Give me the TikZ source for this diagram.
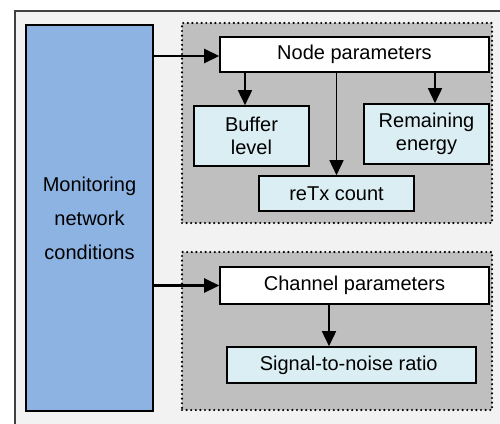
\documentclass[tikz,border=0pt]{standalone}
\usepackage{fontspec}
\setmainfont{Liberation Sans}
\usetikzlibrary{shapes, calc, arrows.meta, positioning}

\definecolor{monblue}{HTML}{8DB3E2}
\definecolor{grpgray}{HTML}{BFBFBF}
\definecolor{parblue}{HTML}{DBEEF4}
\definecolor{framegray}{HTML}{F2F2F2}

\begin{document}
\begin{tikzpicture}[x=1pt, y=-1pt, font=\fontsize{20}{23}\selectfont,
  >={Triangle[length=15pt, width=14pt]},
  box/.style={draw, line width=1.6pt, inner sep=0pt, align=center},
  group/.style={draw, line width=2.4pt, line cap=round, dash pattern=on 0pt off 4.6pt,
    fill=grpgray, inner sep=0pt},
  link/.style={->, line width=2.6pt},
  sublink/.style={->, line width=1.6pt}]
  \clip (0,0) rectangle (500,423);
  \draw[line width=1.3pt, draw=black!75, fill=framegray] (15,11) rectangle (530,450);

  \node[box, fill=monblue, minimum width=127pt, minimum height=386pt,
        font=\fontsize{20}{34}\selectfont] (monitor) at (89.5,218)
        {Monitoring\\network\\conditions};

  \foreach \N/\X/\Y/\H in {nodegroup/337/123/200, changroup/337/331/158} {
  \node[group, minimum width=310pt, minimum height=\H pt] (\N) at (\X,\Y) {};
  }

  \foreach \N/\X/\Y/\W/\H/\C/\T in {
      nodepar/354.5/54.5/269/35/white/{Node parameters},
      buffer/251.5/136/115/60/parblue/{Buffer\\level},
      energy/426.5/134/125/60/parblue/{Remaining\\energy},
      retx/336.5/193.5/155/35/parblue/{reTx count},
      chanpar/354.5/285.5/269/37/white/{Channel parameters},
      snr/351.5/365/249/36/parblue/{Signal-to-noise ratio}
  } {
  \node[box, fill=\C, minimum width=\W pt, minimum height=\H pt] (\N) at (\X,\Y) {\T};
  }

  \draw[link] (monitor.east |- 0,56) -- (nodepar.west |- 0,56);
  \draw[link] (monitor.east |- chanpar) -- (chanpar.west);
  \draw[sublink] (nodepar.south -| 245,0) -- (buffer.north -| 245,0);
  \draw[sublink] (nodepar.south -| retx) -- (retx.north);
  \draw[sublink] (nodepar.south -| 435,0) -- (energy.north -| 435,0);
  \draw[sublink] (chanpar.south -| 329,0) -- (snr.north -| 329,0);
\end{tikzpicture}
\end{document}
